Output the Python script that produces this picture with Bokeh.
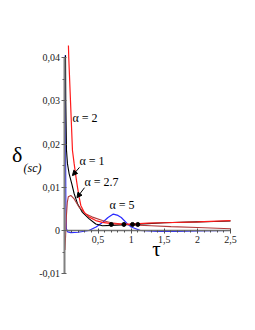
from bokeh.plotting import figure
from bokeh.models import (LinearAxis, FixedTicker, CustomJSTickFormatter, Range1d,
                          Label, Arrow, NormalHead)
from bokeh.embed import file_html
from bokeh.resources import INLINE

# ---- data ----
tau_a1 = [0.008, 0.012, 0.023, 0.038, 0.063, 0.103, 0.139, 0.189, 0.264, 0.366, 0.465,
          0.566, 0.7, 0.85, 1.0, 1.25, 1.5, 1.75, 2.0, 2.25, 2.5]
d_a1 = [0.0405, 0.03, 0.0185, 0.0154, 0.0131, 0.0108, 0.0085, 0.0062, 0.0042, 0.0027, 0.0015,
        0.0011, 0.0012, 0.0013, 0.0014, 0.0016, 0.0018, 0.0019, 0.0020, 0.0021, 0.0022]

tau_a2 = [0.052, 0.057, 0.083, 0.113, 0.139, 0.163, 0.189, 0.214, 0.239, 0.29, 0.366, 0.465,
          0.566, 0.7, 0.85, 1.0, 1.25, 1.5, 2.0, 2.5]
d_a2 = [0.0428, 0.040, 0.030, 0.0185, 0.0154, 0.0127, 0.0100, 0.0077, 0.0058, 0.0042, 0.0031,
        0.0023, 0.0019, 0.0016, 0.0015, 0.0015, 0.0017, 0.0018, 0.0020, 0.0023]

tau_a27 = [0.0, 0.01, 0.02, 0.035, 0.05, 0.088, 0.139, 0.214, 0.314, 0.415, 0.566, 0.7, 0.85,
           1.0, 1.3, 1.6, 2.0, 2.5]
d_a27 = [-0.0045, -0.001, 0.003, 0.0065, 0.0078, 0.0081, 0.0073, 0.0054, 0.0038, 0.0031, 0.0023,
         0.0018, 0.0015, 0.0013, 0.0011, 0.0009, 0.0007, 0.0004]

tau_a5 = [0.003, 0.008, 0.013, 0.02, 0.04, 0.09, 0.2, 0.36, 0.47, 0.57, 0.65, 0.73, 0.8, 0.85,
          0.94, 1.0, 1.14, 1.4, 1.7, 2.0, 2.5]
d_a5 = [0.0405, 0.02, 0.006, 0.0005, -0.0003, -0.0005, -0.0004, 0.0, 0.0008, 0.0019, 0.0030,
        0.0038, 0.0035, 0.0030, 0.0016, 0.0008, 0.0, -0.0002, -0.0002, -0.0001, 0.0]

dot_tau = [0.70, 0.89, 1.02, 1.10]
dot_d = [0.0014, 0.0014, 0.0014, 0.0014]

y_ticks = [-0.01, 0.0, 0.01, 0.02, 0.03, 0.04]
y_minor = [-0.005, 0.005, 0.015, 0.025, 0.035]
x_ticks = [0.5, 1.0, 1.5, 2.0, 2.5]
x_minor = [0.1, 0.2, 0.3, 0.4, 0.6, 0.7, 0.8, 0.9, 1.1, 1.2, 1.3, 1.4, 1.6, 1.7, 1.8, 1.9,
           2.1, 2.2, 2.3, 2.4]

SERIF = "Liberation Serif"

p = figure(width=239, height=300, output_backend="svg", toolbar_location=None,
           x_axis_location=None, y_axis_location=None, min_border=0,
           x_range=Range1d(-0.974, 2.636), y_range=Range1d(-0.01618, 0.05318))
p.grid.visible = False
p.outline_line_color = None

fmt = CustomJSTickFormatter(code="return tick == 0 ? '0' : tick.toString().replace('.', ',');")

yax = LinearAxis(fixed_location=0, bounds=(-0.01, 0.04),
                 ticker=FixedTicker(ticks=y_ticks, minor_ticks=y_minor), formatter=fmt)
yax.axis_line_color = "#808080"
yax.axis_line_width = 2
yax.major_tick_line_color = "#606060"
yax.minor_tick_line_color = "#606060"
yax.major_tick_in = 2
yax.major_tick_out = 3
yax.minor_tick_in = 0
yax.minor_tick_out = 2
yax.major_label_standoff = 2
yax.major_label_text_font = SERIF
yax.major_label_text_font_size = "10px"
yax.major_label_text_color = "#222222"
p.add_layout(yax, "left")

xax = LinearAxis(fixed_location=0, bounds=(0, 2.5),
                 ticker=FixedTicker(ticks=x_ticks, minor_ticks=x_minor), formatter=fmt)
xax.axis_line_color = "#707070"
xax.axis_line_width = 1.5
xax.major_tick_line_color = "#505050"
xax.minor_tick_line_color = "#505050"
xax.major_tick_in = 2
xax.major_tick_out = 3
xax.minor_tick_in = 0
xax.minor_tick_out = 2
xax.major_label_standoff = 2
xax.major_label_text_font = SERIF
xax.major_label_text_font_size = "10px"
xax.major_label_text_color = "#222222"
p.add_layout(xax, "below")

p.line(tau_a5, d_a5, line_color="#2a2aff", line_width=1.2)
p.line(tau_a1, d_a1, line_color="#000000", line_width=1.1)
p.line(tau_a27, d_a27, line_color="#b03a3a", line_width=1.1)
p.line(tau_a2, d_a2, line_color="#ff1a1a", line_width=1.2)
p.scatter(dot_tau, dot_d, size=4, color="black")

def lab(x, y, t, size="12px", style="normal", baseline="middle"):
    p.add_layout(Label(x=x, y=y, text=t, text_font=SERIF, text_font_size=size,
                       text_font_style=style, text_baseline=baseline, text_color="black"))

lab(0.113, 0.0259, "α = 2")
lab(0.219, 0.0160, "α = 1")
lab(0.295, 0.0113, "α = 2.7")
lab(0.672, 0.0058, "α = 5")

lab(-0.80, 0.0175, "δ", size="22px")
lab(-0.627, 0.0144, "(sc)", size="12px", style="italic")
lab(1.32, -0.0042, "τ", size="21px")

for (x0, y0, x1, y1) in [(0.219, 0.0146, 0.113, 0.0127), (0.295, 0.0099, 0.181, 0.0076)]:
    p.add_layout(Arrow(x_start=x0, y_start=y0, x_end=x1, y_end=y1, line_width=1,
                       end=NormalHead(size=5, fill_color="black", line_color="black")))

open("out.html", "w").write(file_html(p, INLINE))
